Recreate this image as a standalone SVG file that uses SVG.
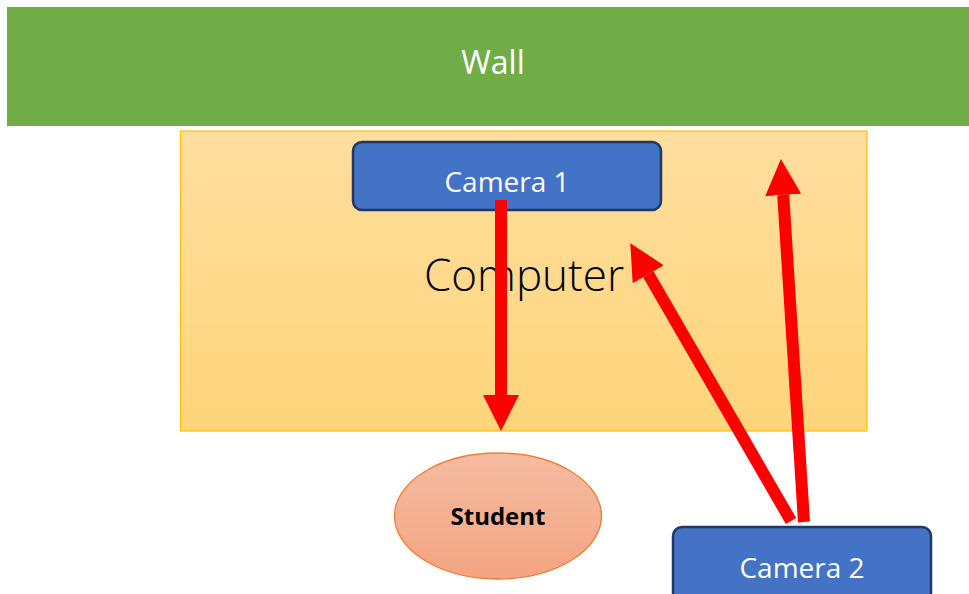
<svg xmlns="http://www.w3.org/2000/svg" width="969" height="594" viewBox="0 0 969 594">
<style>
.cam{fill:#4472C4;stroke:#1F3864;stroke-width:2.5}
.camtxt{font-family:"Open Sans","Noto Sans",sans-serif;font-size:28px;fill:#FFFFFF;text-anchor:middle}
.arrow{stroke:#FF0000;stroke-width:12;fill:none;stroke-linecap:butt}
</style>
<defs>
<linearGradient id="gComp" x1="0" y1="0" x2="0" y2="1">
<stop offset="0" stop-color="#FFDE9F"/>
<stop offset="1" stop-color="#FFD57A"/>
</linearGradient>
<linearGradient id="gStu" x1="0" y1="0" x2="0" y2="1">
<stop offset="0" stop-color="#F5BCA2"/>
<stop offset="1" stop-color="#F4A482"/>
</linearGradient>
<marker id="head" markerUnits="userSpaceOnUse" viewBox="0 0 36 36" markerWidth="36" markerHeight="36" refX="0" refY="18" orient="auto">
<path d="M0,0 L36,18 L0,36 z" fill="#FF0000"/>
</marker>
</defs>
<g id="wall">
<rect x="7" y="7" width="962" height="119" fill="#70AD47"/>
<text x="493" y="74" font-family="'Open Sans','Noto Sans',sans-serif" font-size="32" fill="#FFFFFF" text-anchor="middle">Wall</text>
</g>
<g id="computer">
<rect x="180.5" y="131" width="686.5" height="300" fill="url(#gComp)" stroke="#FFC000" stroke-width="1.2"/>
<text x="524" y="291" font-family="'Open Sans','Noto Sans',sans-serif" font-weight="300" font-size="44" fill="#000000" text-anchor="middle">Computer</text>
</g>
<g id="camera1">
<rect class="cam" x="353" y="142" width="308" height="68" rx="9"/>
<text class="camtxt" x="507" y="192">Camera 1</text>
</g>
<g id="student">
<ellipse cx="498" cy="516" rx="103.5" ry="63" fill="url(#gStu)" stroke="#ED7D31" stroke-width="1.3"/>
<text x="498" y="525" font-family="'Open Sans','Noto Sans',sans-serif" font-weight="bold" font-size="24" fill="#000000" text-anchor="middle">Student</text>
</g>
<g id="camera2">
<rect class="cam" x="673" y="527" width="258" height="80" rx="9"/>
<text class="camtxt" x="802" y="578">Camera 2</text>
</g>
<g id="connectors">
<line class="arrow" x1="501" y1="200" x2="501" y2="395" marker-end="url(#head)"/>
<line class="arrow" x1="791" y1="521" x2="648.3" y2="274.3" marker-end="url(#head)"/>
<line class="arrow" x1="804" y1="522" x2="783.2" y2="195" marker-end="url(#head)"/>
</g>
</svg>
